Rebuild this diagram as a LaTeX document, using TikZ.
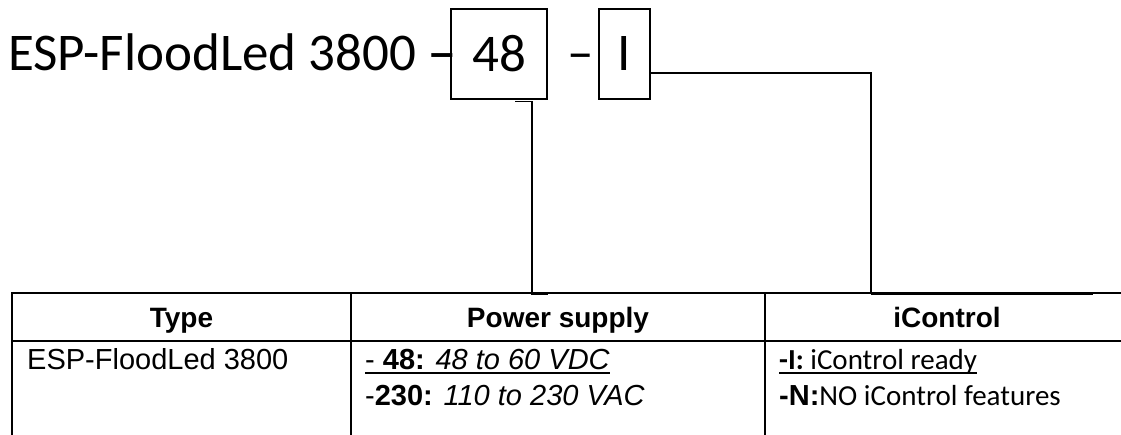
\documentclass[tikz,border=0pt]{standalone}
\usepackage{fontspec}
\usepackage{graphicx}
\setmainfont{Liberation Sans}
\newfontfamily\calibri{Carlito}
\usetikzlibrary{positioning}
\newsavebox\ulbox
\newcommand\ulthick[1]{\sbox\ulbox{#1}\rlap{\rule[-5pt]{\wd\ulbox}{2.2pt}}\usebox\ulbox}

\begin{document}
\begin{tikzpicture}[x=1pt,y=1pt,
  big/.style={font=\calibri\fontsize{53}{60}\selectfont,inner sep=0pt},
  codebox/.style={draw,line width=1.1pt,inner sep=0pt,minimum height=90pt},
  head/.style={font=\fontsize{28}{34}\selectfont\bfseries,anchor=base,inner sep=0pt},
  cell/.style={font=\fontsize{29}{36}\selectfont,anchor=base west,inner sep=0pt},
  ccell/.style={cell,font=\calibri\fontsize{29}{36}\selectfont},
  link/.style={line width=1.5pt},
  rule/.style={line width=2.2pt}]
\useasboundingbox (0,0) rectangle (1121,-435);
% order code
\node[big,anchor=base west] (name) at (8,-71) {ESP-FloodLed 3800 \scalebox{1.7}[1]{-}};
\node[big,codebox,minimum width=96pt] (volt) at (499,-54) {48};
\node[big,anchor=base] (dash) at (581,-71) {–};
\node[big,codebox,minimum width=51pt] (ctl) at (624.5,-54) {I};
% table
\draw[rule] (12,-435) -- (12,-293) -- (1121,-293);
\draw[rule] (12,-341) -- (1121,-341);
\draw[rule] (351,-293) -- (351,-435);
\draw[rule] (765,-293) -- (765,-435);
\node[head] (typehead) at (181.5,-328) {Type};
\node[head] (pwrhead) at (558,-328) {Power supply};
\node[head] (ctlhead) at (947,-328) {iControl};
\node[cell] (typecell) at (27,-369) {ESP-FloodLed 3800};
\node[cell] (pwr48) at (365,-369) {\ulthick{- \textbf{48:} \textit{48 to 60 VDC}}};
\node[cell] (pwr230) at (365,-405) {-\textbf{230:} \textit{110 to 230 VAC}};
\node[ccell] (ctlI) at (779,-369) {\ulthick{\textbf{-I:} iControl ready}};
\node[ccell] (ctlN) at (779,-405) {{\rmfamily\bfseries -N:}NO iControl features};
% connectors
\coordinate (pwrtap) at (532,-294);
\coordinate (ctltap) at (871,-294);
\coordinate (ctlend) at (1093,-294);
\draw[link] ([xshift=16pt,yshift=-2pt]volt.south) -- ++(17,0) -- (pwrtap) -- ++(16,0);
\draw[link] ([yshift=-19pt]ctl.east) -| (ctltap);
\draw[rule] (ctltap) -- (ctlend);
\end{tikzpicture}
\end{document}
